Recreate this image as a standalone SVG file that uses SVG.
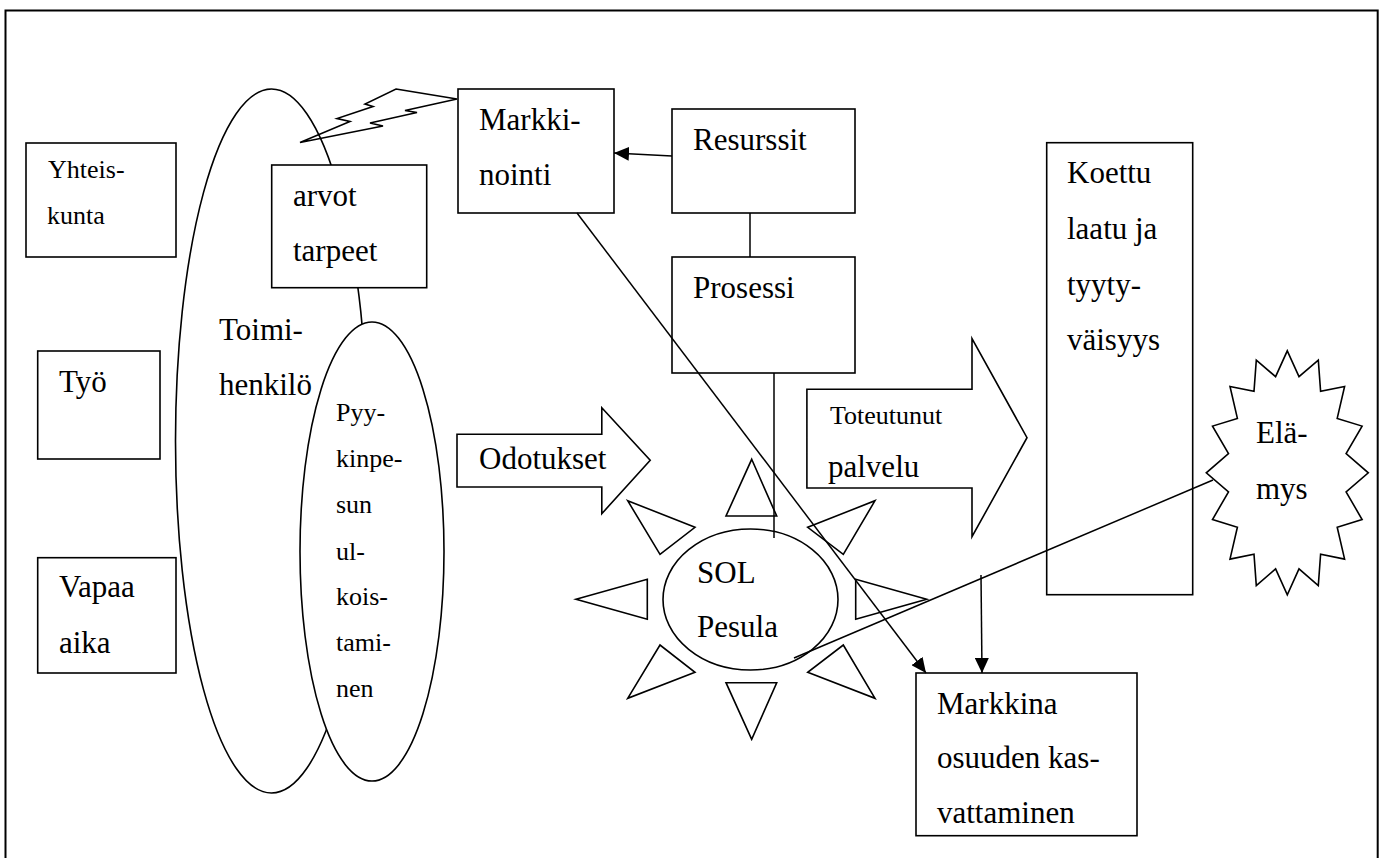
<svg xmlns="http://www.w3.org/2000/svg" width="1384" height="858" viewBox="0 0 1384 858">
<defs>
<style>
.s{fill:#fff;stroke:#000;stroke-width:1.6}
.n{fill:none;stroke:#000;stroke-width:1.6}
.t{font-family:"Liberation Serif","Times New Roman","DejaVu Serif",serif;font-size:31px;fill:#000}
.sm{font-size:26px}
.c{fill:none;stroke:#000;stroke-width:1.5}
</style>
<marker id="ah" markerUnits="userSpaceOnUse" markerWidth="16" markerHeight="14" refX="15" refY="7" orient="auto">
<path d="M0,0 L15,7 L0,14 z" fill="#000"/>
</marker>
</defs>
<rect width="1384" height="858" fill="#fff"/>
<path d="M5.5,870 L5.5,10.5 L1377.7,10.5 L1377.7,870" fill="none" stroke="#000" stroke-width="2"/>

<g id="toimihenkilo">
<ellipse class="s" cx="271.5" cy="441" rx="96" ry="352"/>
<text class="t" x="219" y="340">Toimi-</text>
<text class="t" x="219" y="395">henkilö</text>
</g>
<g id="yhteiskunta">
<rect class="s" x="26" y="143" width="150" height="114"/>
<text class="t sm" x="48" y="178">Yhteis-</text>
<text class="t sm" x="47" y="224">kunta</text>
</g>
<g id="tyo">
<rect class="s" x="37.7" y="351" width="122.3" height="108"/>
<text class="t" x="59" y="392">Työ</text>
</g>
<g id="vapaa-aika">
<rect class="s" x="37.7" y="557.7" width="138.3" height="115.3"/>
<text class="t" x="59" y="597">Vapaa</text>
<text class="t" x="59" y="653">aika</text>
</g>
<g id="arvot">
<rect class="s" x="271.7" y="165" width="155" height="122.7"/>
<text class="t" x="293" y="206">arvot</text>
<text class="t" x="293" y="261">tarpeet</text>
</g>
<g id="pyykinpesun">
<ellipse class="s" cx="372" cy="551.5" rx="72" ry="229.5"/>
<text class="t sm" x="336" y="421">Pyy-</text>
<text class="t sm" x="336" y="467">kinpe-</text>
<text class="t sm" x="336" y="513">sun</text>
<text class="t sm" x="336" y="560">ul-</text>
<text class="t sm" x="336" y="605">kois-</text>
<text class="t sm" x="336" y="651">tami-</text>
<text class="t sm" x="336" y="697">nen</text>
</g>
<g id="salama">
<polygon class="n" points="396,89 457,99 405,110.5 417,112.5 370,123 383,126 300,142.5 350,121.5 337,118.5 373,106.5 365,104"/>
</g>
<g id="markkinointi">
<rect class="s" x="458" y="89" width="156" height="124"/>
<text class="t" x="479" y="130">Markki-</text>
<text class="t" x="479" y="185">nointi</text>
</g>
<g id="resurssit">
<rect class="s" x="672" y="109" width="183" height="104"/>
<text class="t" x="693" y="150">Resurssit</text>
</g>
<g id="prosessi">
<rect class="s" x="672" y="257" width="183" height="116"/>
<text class="t" x="693" y="298">Prosessi</text>
</g>
<g id="odotukset">
<polygon class="s" points="457,434.3 601.8,434.3 601.8,407.7 650.2,460.3 601.8,513.7 601.8,487 457,487"/>
<text class="t" x="479" y="468.7">Odotukset</text>
</g>
<g id="toteutunut">
<polygon class="s" points="806.9,389.3 972,389.3 972,338.7 1027,437.7 972,536.7 972,488 806.9,488"/>
<text class="t sm" x="830" y="424">Toteutunut</text>
<text class="t" x="828" y="477">palvelu</text>
</g>
<g id="koettu">
<rect class="s" x="1046.7" y="142.7" width="146" height="452"/>
<text class="t" x="1067" y="183">Koettu</text>
<text class="t" x="1067" y="239">laatu ja</text>
<text class="t" x="1067" y="295">tyyty-</text>
<text class="t" x="1067" y="350">väisyys</text>
</g>
<g id="sol">
<polygon class="n" points="751.7,459.3 776.7,516 726,516"/>
<polygon class="n" points="627.7,500.7 695,527.3 660,554.3"/>
<polygon class="n" points="576,599.3 647.3,579.3 647.3,619.3"/>
<polygon class="n" points="627.7,698.3 660,645 695,672.3"/>
<polygon class="n" points="751.7,739.3 726,682.7 776.7,682.7"/>
<polygon class="n" points="875,698.3 843.3,645 807.7,672.3"/>
<polygon class="n" points="926.7,599.3 855.7,579.3 855.7,619.3"/>
<polygon class="n" points="875,500.7 843.3,554.3 807.7,527.3"/>
<ellipse class="s" cx="750.5" cy="599.5" rx="87.5" ry="70.5"/>
<text class="t" x="697" y="583">SOL</text>
<text class="t" x="697" y="637">Pesula</text>
</g>
<g id="elamys">
<polygon class="s" points="1287.3,350.8 1299,376.7 1318.3,360.1 1320.6,391.3 1344.6,386.5 1337.2,418.4 1362.1,426.1 1346.1,453.7 1368.3,472.8 1346.1,491.9 1362.1,519.5 1337.2,527.2 1344.6,559.1 1320.6,554.3 1318.3,585.5 1299,568.9 1287.3,594.8 1275.6,568.9 1256.3,585.5 1254,554.3 1230,559.1 1237.4,527.2 1212.5,519.5 1228.5,491.9 1206.3,472.8 1228.5,453.7 1212.5,426.1 1237.4,418.4 1230,386.5 1254,391.3 1256.3,360.1 1275.6,376.7"/>
<text class="t" x="1256" y="443">Elä-</text>
<text class="t" x="1256" y="499">mys</text>
</g>
<g id="markkina">
<rect class="s" x="916" y="673" width="221" height="162.7"/>
<text class="t" x="937" y="714">Markkina</text>
<text class="t" x="937" y="768">osuuden kas-</text>
<text class="t" x="937" y="823">vattaminen</text>
</g>

<g id="connectors">
<path class="c" d="M672,156 L614,153" marker-end="url(#ah)"/>
<path class="c" d="M577,213 L926,673" marker-end="url(#ah)"/>
<path class="c" d="M981,575 L982,673" marker-end="url(#ah)"/>
<path class="c" d="M750,213 L750,257"/>
<path class="c" d="M774,373 L774,538"/>
<path class="c" d="M1213,480 L794,658"/>
</g>
</svg>
